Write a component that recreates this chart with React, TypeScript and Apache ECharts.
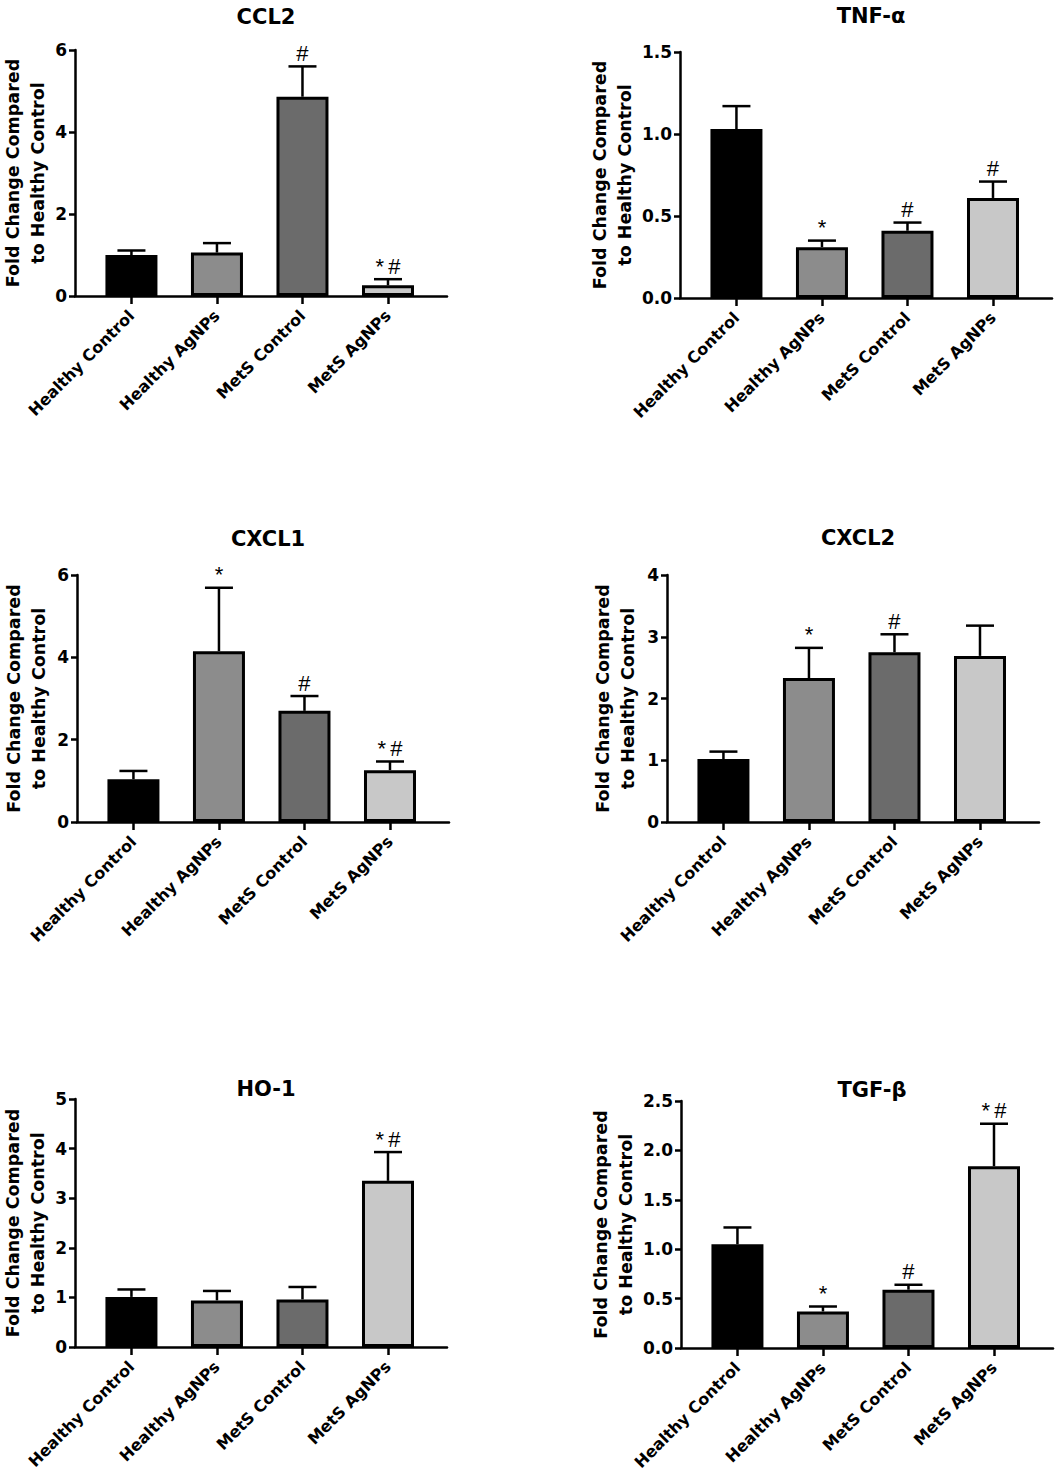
import React, { useEffect, useRef } from 'react';
import * as echarts from 'echarts';

const categories = ['Healthy Control', 'Healthy AgNPs', 'MetS Control', 'MetS AgNPs'];
const barColors = ['#000000', '#8c8c8c', '#6b6b6b', '#c8c8c8'];

const ccl2Mean = [1.0, 1.06, 4.86, 0.26];
const ccl2Err = [0.11, 0.23, 0.74, 0.15];
const ccl2Sig = ['', '', '#', '*\u2009#'];
const ccl2Ticks = [0, 2, 4, 6];

const tnfMean = [1.03, 0.31, 0.41, 0.61];
const tnfErr = [0.14, 0.04, 0.05, 0.1];
const tnfSig = ['', '*', '#', '#'];
const tnfTicks = [0, 0.5, 1.0, 1.5];

const cxcl1Mean = [1.04, 4.15, 2.7, 1.26];
const cxcl1Err = [0.2, 1.54, 0.36, 0.21];
const cxcl1Sig = ['', '*', '#', '*\u2009#'];
const cxcl1Ticks = [0, 2, 4, 6];

const cxcl2Mean = [1.02, 2.33, 2.75, 2.69];
const cxcl2Err = [0.12, 0.49, 0.29, 0.49];
const cxcl2Sig = ['', '*', '#', ''];
const cxcl2Ticks = [0, 1, 2, 3, 4];

const ho1Mean = [1.01, 0.94, 0.96, 3.35];
const ho1Err = [0.15, 0.19, 0.25, 0.58];
const ho1Sig = ['', '', '', '*\u2009#'];
const ho1Ticks = [0, 1, 2, 3, 4, 5];

const tgfMean = [1.05, 0.37, 0.59, 1.84];
const tgfErr = [0.17, 0.05, 0.05, 0.43];
const tgfSig = ['', '*', '#', '*\u2009#'];
const tgfTicks = [0, 0.5, 1.0, 1.5, 2.0, 2.5];

const panels = [
  { title: 'CCL2', mean: ccl2Mean, err: ccl2Err, sig: ccl2Sig, ticks: ccl2Ticks, dec: 0, left: 75, top: 50, height: 246, titleTop: 1, gap: 25 },
  { title: 'TNF-\u03b1', mean: tnfMean, err: tnfErr, sig: tnfSig, ticks: tnfTicks, dec: 1, left: 680, top: 52, height: 246, titleTop: 0, gap: 38 },
  { title: 'CXCL1', mean: cxcl1Mean, err: cxcl1Err, sig: cxcl1Sig, ticks: cxcl1Ticks, dec: 0, left: 77, top: 575, height: 247, titleTop: 523, gap: 26 },
  { title: 'CXCL2', mean: cxcl2Mean, err: cxcl2Err, sig: cxcl2Sig, ticks: cxcl2Ticks, dec: 0, left: 667, top: 575, height: 247, titleTop: 522, gap: 27 },
  { title: 'HO-1', mean: ho1Mean, err: ho1Err, sig: ho1Sig, ticks: ho1Ticks, dec: 0, left: 75, top: 1099, height: 248, titleTop: 1073, gap: 25 },
  { title: 'TGF-\u03b2', mean: tgfMean, err: tgfErr, sig: tgfSig, ticks: tgfTicks, dec: 1, left: 681, top: 1101, height: 247, titleTop: 1074, gap: 40 },
];

const GRID_W = 372;
const X_MIN = -0.66;
const X_MAX = 3.69;
const FONT = 'DejaVu Sans';

function buildOption() {
  const title: any[] = [];
  const grid: any[] = [];
  const xAxis: any[] = [];
  const yAxis: any[] = [];
  const series: any[] = [];
  panels.forEach((p, i) => {
    title.push({
      text: p.title,
      left: p.left + GRID_W / 2,
      top: p.titleTop,
      textAlign: 'center',
      textStyle: { fontFamily: FONT, fontWeight: 'bold', fontSize: 21, color: '#000' },
    });
    grid.push({
      left: p.left,
      top: p.top,
      width: GRID_W,
      height: p.height,
      containLabel: false,
      outerBoundsMode: 'none',
    });
    xAxis.push({
      type: 'value',
      gridIndex: i,
      min: X_MIN,
      max: X_MAX,
      splitLine: { show: false },
      axisLine: { show: true, onZero: false, lineStyle: { color: '#000', width: 2.5 } },
      axisTick: { show: true, customValues: [0, 1, 2, 3], length: 8, lineStyle: { color: '#000', width: 2.5 } },
      axisLabel: {
        show: true,
        customValues: [0, 1, 2, 3],
        rotate: 45,
        margin: 17,
        formatter: (v: number) => categories[Math.round(v)] ?? '',
        fontFamily: FONT,
        fontWeight: 'bold',
        fontSize: 16,
        color: '#000',
      },
    });
    const t = p.ticks;
    yAxis.push({
      type: 'value',
      gridIndex: i,
      min: t[0],
      max: t[t.length - 1],
      interval: t[1] - t[0],
      splitLine: { show: false },
      name: 'Fold Change Compared\nto Healthy Control',
      nameLocation: 'middle',
      nameGap: p.gap,
      nameTextStyle: { fontFamily: FONT, fontWeight: 'bold', fontSize: 17.5, lineHeight: 25, color: '#000' },
      axisLine: { show: true, onZero: false, lineStyle: { color: '#000', width: 2.5 } },
      axisTick: { show: true, length: 6, lineStyle: { color: '#000', width: 2.5 } },
      axisLabel: {
        margin: 8,
        formatter: (v: number) => v.toFixed(p.dec),
        fontFamily: FONT,
        fontWeight: 'bold',
        fontSize: 17,
        color: '#000',
      },
    });
    series.push({
      type: 'bar',
      xAxisIndex: i,
      yAxisIndex: i,
      barWidth: 52,
      data: p.mean.map((m, j) => ({
        value: [j, m],
        itemStyle: { color: barColors[j], borderColor: '#000', borderWidth: 3 },
      })),
      z: 2,
    });
    series.push({
      type: 'custom',
      xAxisIndex: i,
      yAxisIndex: i,
      z: 3,
      clip: false,
      data: p.mean.map((m, j) => [j, m, p.err[j]]),
      encode: { x: 0, y: 1 },
      renderItem: (params: any, api: any) => {
        const x = api.value(0);
        const m = api.value(1);
        const e = api.value(2);
        const p0 = api.coord([x, m]);
        const p1 = api.coord([x, m + e]);
        const txt = p.sig[params.dataIndex];
        const children: any[] = [
          { type: 'line', shape: { x1: p0[0], y1: p0[1], x2: p1[0], y2: p1[1] }, style: { stroke: '#000', lineWidth: 2.5 } },
          { type: 'line', shape: { x1: p1[0] - 14, y1: p1[1], x2: p1[0] + 14, y2: p1[1] }, style: { stroke: '#000', lineWidth: 2.5 } },
        ];
        if (txt) {
          children.push({
            type: 'text',
            style: {
              text: txt,
              x: p1[0],
              y: p1[1] - 2,
              align: 'center',
              verticalAlign: 'bottom',
              fontFamily: 'Liberation Sans',
              fontSize: 22,
              fill: '#000',
            },
          });
        }
        return { type: 'group', children };
      },
    });
  });
  return { animation: false, backgroundColor: '#fff', title, grid, xAxis, yAxis, series };
}

export default function App() {
  const ref = useRef<HTMLDivElement>(null);
  useEffect(() => {
    const chart = echarts.init(ref.current!, null, { renderer: 'svg' });
    chart.setOption(buildOption());
    return () => chart.dispose();
  }, []);
  return (
    <div
      ref={ref}
      style={{ position: 'absolute', left: 0, top: 0, width: 1056, height: 1474, background: '#fff' }}
    />
  );
}
